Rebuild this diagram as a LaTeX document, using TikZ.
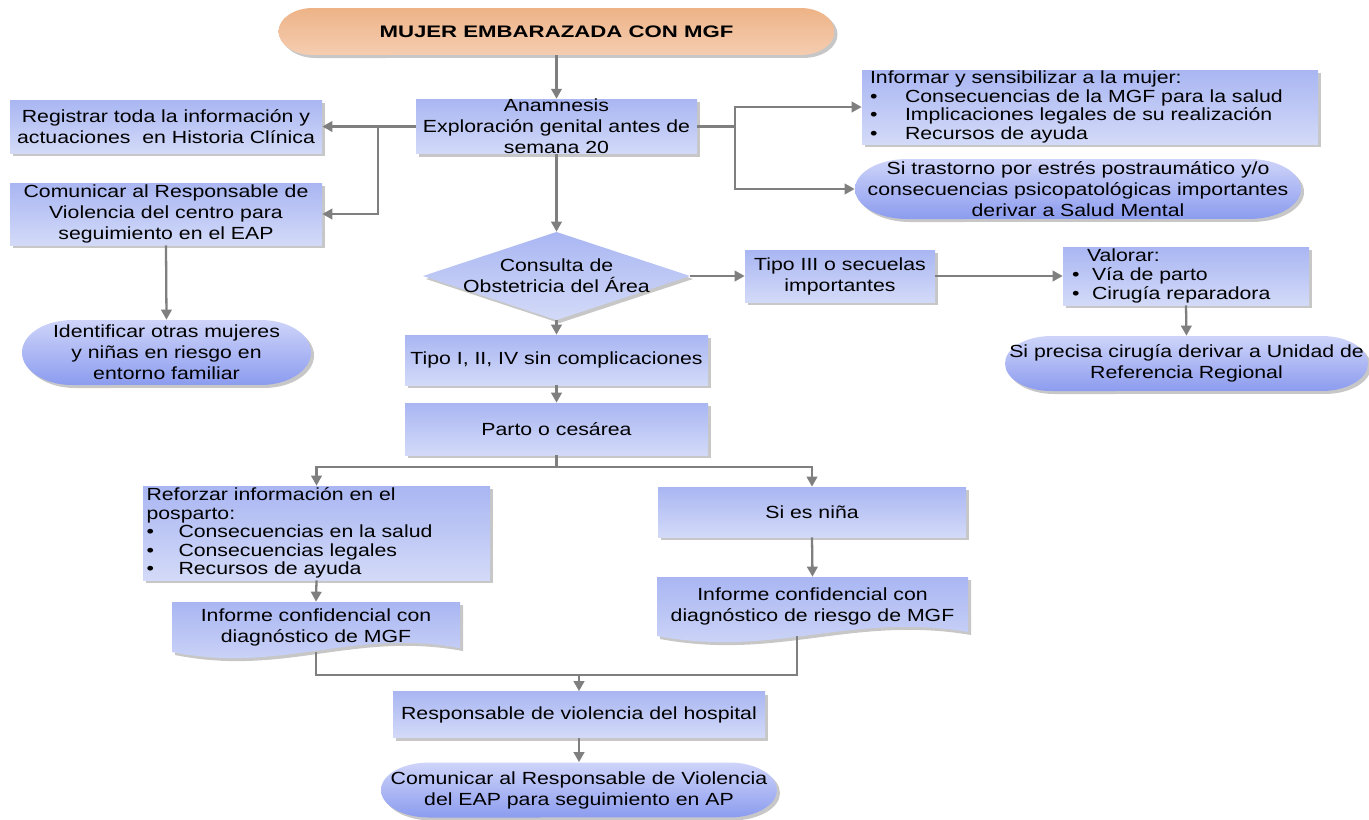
\documentclass[tikz,border=0pt]{standalone}
\usepackage{fontspec}
\setmainfont{Liberation Sans}[FakeStretch=1.21]
\newfontfamily\titlefont{Liberation Sans}[FakeStretch=1.33]
\usetikzlibrary{arrows.meta,shadows}

\definecolor{boxtop}{HTML}{A9B6F2}
\definecolor{boxbot}{HTML}{D3DAF8}
\definecolor{pilltop}{HTML}{CED4F9}
\definecolor{pillbot}{HTML}{8C9CEF}
\definecolor{orgtop}{HTML}{EDB387}
\definecolor{orgbot}{HTML}{F5CDB1}
\definecolor{linkgray}{HTML}{7F7F7F}

% stadium outline with elliptical ends: style, cx, cy, w, h, end radius (px)
\newcommand\pillpath[6]{%
  \path[#1] ({#2-#4/2+#6},{#3-#5/2}) -- ({#2+#4/2-#6},{#3-#5/2})
    arc[start angle=90, end angle=-90, x radius=#6*0.02cm, y radius=#5*0.01cm]
    -- ({#2-#4/2+#6},{#3+#5/2})
    arc[start angle=270, end angle=90, x radius=#6*0.02cm, y radius=#5*0.01cm]
    -- cycle;}
% document outline with a wavy lower edge: style, left, top, right, bottom
\newcommand\docpath[5]{%
  \path[#1] (#2,#3) -- (#4,#3) -- (#4,{#5-4})
    .. controls ({#2+0.62*(#4-#2)},{#5-24}) and ({#2+0.38*(#4-#2)},{#5+22}) .. (#2,#5)
    -- cycle;}

\tikzset{
  txt/.style={inner sep=0pt, align=center, text=black,
    font=\fontsize{10pt}{11.9pt}\selectfont},
  listtxt/.style={txt, align=left, font=\fontsize{10pt}{10.6pt}\selectfont},
  sz/.style 2 args={minimum width=#1*0.02cm, minimum height=#2*0.02cm},
  dshadow/.style={drop shadow={shadow xshift=0.06cm, shadow yshift=-0.06cm,
    fill=black, opacity=0.22}},
  boxfill/.style={top color=boxtop, bottom color=boxbot, dshadow},
  bluefill/.style={top color=pilltop, bottom color=pillbot, dshadow},
  orangefill/.style={top color=orgtop, bottom color=orgbot, dshadow},
  stepbox/.style={txt, rectangle, boxfill},
  link/.style={draw=linkgray, line width=1.3pt},
  arr/.style={link, -{Triangle[length=0.2cm, width=0.21cm]}},
}

\newcommand\bul[1]{\makebox[#1][l]{\textbullet}}

\begin{document}
\begin{tikzpicture}[x=0.02cm, y=-0.02cm]
\useasboundingbox (0,0) rectangle (1369,819);
\fill[white] (0,0) rectangle (1369,819);

% ---- shapes drawn as paths ----
\pillpath{orangefill}{556.5}{31.5}{556}{47}{34}
\pillpath{bluefill}{166.5}{352.5}{289}{65}{50}
\pillpath{bluefill}{1078}{189}{446}{60}{52}
\pillpath{bluefill}{1186.5}{363.5}{363}{55}{46}
\pillpath{bluefill}{579}{790}{396}{55}{48}
\path[boxfill] (423,276) -- (556.5,232) -- (690,276) -- (556.5,320) -- cycle;
\docpath{boxfill}{172}{602}{460}{652}
\docpath{boxfill}{657}{577}{968}{636}

% ---- nodes ----
\node[txt, sz={556}{47}, font={\titlefont\bfseries\fontsize{9.5pt}{11pt}\selectfont}]
  (top) at (556.5,31.5) {MUJER EMBARAZADA CON MGF};

\node[stepbox, sz={281}{53}] (anam) at (556.5,126.5)
  {Anamnesis\\Exploración genital antes de\\semana 20};
\node[stepbox, sz={312}{53}] (reg) at (166,126.5)
  {Registrar toda la información y\\actuaciones \ en Historia Clínica};
\node[stepbox, sz={312}{62}] (com) at (166,214)
  {Comunicar al Responsable de\\Violencia del centro para\\seguimiento en el EAP};
\node[txt, sz={289}{65}] (ident) at (166.5,352.5)
  {Identificar otras mujeres\\y niñas en riesgo en\\entorno familiar};

\node[stepbox, listtxt, sz={456}{74}, text width=8.8cm] (inform) at (1090,107)
  {Informar y sensibilizar a la mujer:\\
   \bul{0.7cm}Consecuencias de la MGF para la salud\\
   \bul{0.7cm}Implicaciones legales de su realización\\
   \bul{0.7cm}Recursos de ayuda};
\node[txt, sz={446}{60}] (trast) at (1078,189)
  {Si trastorno por estrés postraumático y/o\\consecuencias psicopatológicas importantes\\derivar a Salud Mental};

\node[txt, sz={267}{88}] (dia) at (556.5,276)
  {Consulta de\\Obstetricia del Área};
\node[stepbox, sz={190}{52}] (tipo3) at (840,276)
  {Tipo III o secuelas\\importantes};
\node[stepbox, listtxt, sz={246}{58}, text width=4.56cm] (valor) at (1186,276)
  {\hspace*{0.3cm}Valorar:\\
   \bul{0.4cm}Vía de parto\\
   \bul{0.4cm}Cirugía reparadora};
\node[txt, sz={363}{55}] (prec) at (1186.5,363.5)
  {Si precisa cirugía derivar a Unidad de\\Referencia Regional};

\node[stepbox, sz={303}{50}] (tipo1) at (556.5,360)
  {Tipo I, II, IV sin complicaciones};
\node[stepbox, sz={303}{52}] (parto) at (556.5,429)
  {Parto o cesárea};

\node[stepbox, listtxt, sz={347}{94}, text width=6.8cm] (refo) at (316.5,533)
  {Reforzar información en el\\posparto:\\
   \bul{0.64cm}Consecuencias en la salud\\
   \bul{0.64cm}Consecuencias legales\\
   \bul{0.64cm}Recursos de ayuda};
\node[stepbox, sz={308}{50}] (nina) at (812,512) {Si es niña};

\node[txt, sz={288}{50}] (inf1) at (316,627)
  {Informe confidencial con\\diagnóstico de MGF};
\node[txt, sz={311}{59}] (inf2) at (812.5,606.5)
  {Informe confidencial con\\diagnóstico de riesgo de MGF};

\node[stepbox, sz={372}{46}] (resp) at (579,714.5)
  {Responsable de violencia del hospital};
\node[txt, sz={396}{55}] (comap) at (579,790)
  {Comunicar al Responsable de Violencia\\del EAP para seguimiento en AP};

% ---- connectors ----
\coordinate (jl) at (378,126.5);
\coordinate (jr) at (735,126.5);
\coordinate (sp) at (556.5,467);
\coordinate (mg) at (579,675);

\draw[arr] (top.south) -- (anam.north);
\draw[arr] (anam.west) -- (reg.east);
\draw[arr] (jl) |- (com.east);
\draw[arr] (com.south) -- (ident.north);
\draw[link] (anam.east) -- (jr);
\draw[arr] (jr) |- (inform.west);
\draw[arr] (jr) |- (trast.west);
\draw[arr] (anam.south) -- (dia.north);
\draw[arr] (dia.east) -- (tipo3.west);
\draw[arr] (tipo3.east) -- (valor.west);
\draw[arr] (valor.south) -- (prec.north);
\draw[arr] (dia.south) -- (tipo1.north);
\draw[arr] (tipo1.south) -- (parto.north);
\draw[link] (parto.south) -- (sp);
\draw[arr] (sp) -| (refo.north);
\draw[arr] (sp) -| (nina.north);
\draw[arr] (refo.south) -- (inf1.north);
\draw[arr] (nina.south) -- (inf2.north);
\draw[link] (inf1.south) |- (mg);
\draw[link] ([xshift=-0.31cm]inf2.south) |- (mg);
\draw[arr] (mg) -- (resp.north);
\draw[arr] (resp.south) -- (comap.north);
\end{tikzpicture}
\end{document}
